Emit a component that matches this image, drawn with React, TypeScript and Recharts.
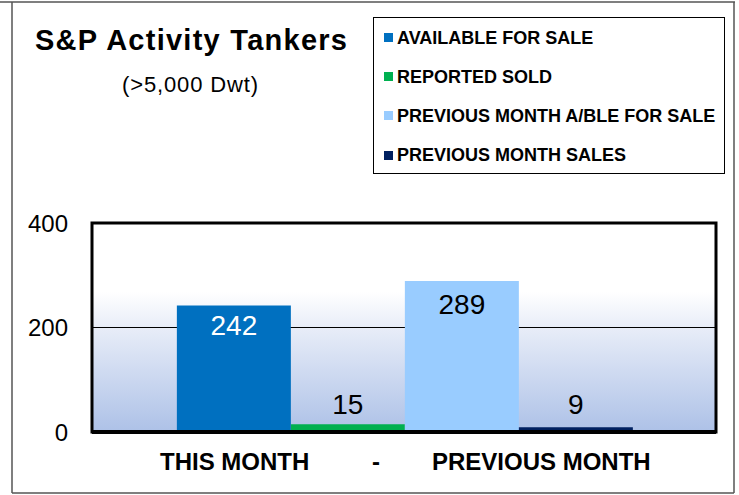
import React from 'react';
import { BarChart, Bar, XAxis, YAxis, CartesianGrid, Legend, LabelList, ReferenceArea } from 'recharts';

const CATEGORIES = ['THIS MONTH - PREVIOUS MONTH'];
const SERIES_NAMES = ['AVAILABLE FOR SALE', 'REPORTED SOLD', 'PREVIOUS MONTH A/BLE FOR SALE', 'PREVIOUS MONTH SALES'];
const SERIES_KEYS = ['available', 'sold', 'prevAvailable', 'prevSales'];
const AVAILABLE = [242];
const SOLD = [15];
const PREV_AVAILABLE = [289];
const PREV_SALES = [9];
const Y_TICKS = [0, 200, 400];

const COLORS = ['#0070C0', '#00B050', '#99CCFF', '#002060'];
const FONT = '"Liberation Sans", Arial, sans-serif';

const data = CATEGORIES.map((name, i) => ({
  name,
  available: AVAILABLE[i],
  sold: SOLD[i],
  prevAvailable: PREV_AVAILABLE[i],
  prevSales: PREV_SALES[i],
}));

// label placement per series: inside the tall bars, above the short ones
const LABELS = [
  { position: 'insideTop', offset: 10, fill: '#fff' },
  { position: 'top', offset: 10, fill: '#000' },
  { position: 'insideTop', offset: 13, fill: '#000' },
  { position: 'top', offset: 13, fill: '#000' },
];

const CategoryTick = (props: any) => {
  const { x, y, payload } = props;
  const parts = String(payload.value).split(' - ');
  const style = { fontFamily: FONT, fontSize: 24, fontWeight: 700, fill: '#000' };
  return (
    <g>
      <text x={x - 244} y={y + 30} style={style}>{parts[0]}</text>
      <text x={x - 32} y={y + 30} style={style}>-</text>
      <text x={x + 28} y={y + 30} style={style}>{parts[1]}</text>
    </g>
  );
};

const LegendBox = () => (
  <div style={{ border: '1px solid #000', width: 352, height: 157, boxSizing: 'border-box', background: '#fff', paddingTop: 0 }}>
    {SERIES_NAMES.map((name, i) => (
      <div key={name} style={{ display: 'flex', alignItems: 'center', height: 39.2, paddingLeft: 10 }}>
        <span style={{ width: 9, height: 9, background: COLORS[i], marginRight: 4, display: 'inline-block' }} />
        <span style={{ fontFamily: FONT, fontWeight: 700, fontSize: 18, color: '#000', lineHeight: 1 }}>{name}</span>
      </div>
    ))}
  </div>
);

export default function App() {
  return (
    <div style={{ position: 'absolute', left: 0, top: 0, width: 739, height: 495, background: '#fff' }}>
      <svg width={739} height={495} style={{ position: 'absolute', left: 0, top: 0 }}>
        <line x1={0} y1={2} x2={735} y2={2} stroke="#555" strokeWidth={1.5} />
        <line x1={12} y1={2} x2={12} y2={493} stroke="#555" strokeWidth={1.5} />
        <line x1={734} y1={2} x2={734} y2={493} stroke="#555" strokeWidth={1.5} />
        <line x1={12} y1={493} x2={734} y2={493} stroke="#555" strokeWidth={1.5} />
        <text x={35} y={50} textLength={312} lengthAdjust="spacing" style={{ fontFamily: FONT, fontSize: 29, fontWeight: 700 }}>S&amp;P Activity Tankers</text>
        <text x={122} y={92} textLength={136} lengthAdjust="spacing" style={{ fontFamily: FONT, fontSize: 22 }}>(&gt;5,000 Dwt)</text>
      </svg>
      <div style={{ position: 'absolute', left: 0, top: 0 }}>
        <BarChart
          width={739}
          height={495}
          data={data}
          margin={{ top: 223, right: 23, bottom: 23, left: 32 }}
          barCategoryGap="13.6%"
          barGap={0}
        >
          <defs>
            <linearGradient id="plotBg" x1="0" y1="0" x2="0" y2="1">
              <stop offset="0%" stopColor="#ffffff" />
              <stop offset="33%" stopColor="#ffffff" />
              <stop offset="50%" stopColor="#E8EDF8" />
              <stop offset="100%" stopColor="#ADC1E7" />
            </linearGradient>
          </defs>
          <CartesianGrid vertical={false} stroke="#000" strokeWidth={1} fill="url(#plotBg)" fillOpacity={1} />
          <XAxis dataKey="name" height={40} axisLine={{ stroke: '#000', strokeWidth: 4 }} tickLine={false} tick={<CategoryTick />} />
          <YAxis
            domain={[0, 400]}
            ticks={Y_TICKS}
            width={60}
            axisLine={false}
            tickLine={false}
            tickMargin={18}
            tick={{ fontFamily: FONT, fontSize: 24, fill: '#000' }}
          />
          <Legend
            verticalAlign="middle"
            align="center"
            layout="vertical"
            content={<LegendBox />}
            wrapperStyle={{ position: 'absolute', left: 373, top: 17, width: 352, height: 157 }}
          />
          {SERIES_KEYS.map((key, i) => (
            <Bar key={key} dataKey={key} name={SERIES_NAMES[i]} fill={COLORS[i]} isAnimationActive={false}>
              <LabelList
                dataKey={key}
                position={LABELS[i].position as any}
                offset={LABELS[i].offset}
                style={{ fontFamily: FONT, fontSize: 28, fill: LABELS[i].fill }}
              />
            </Bar>
          ))}
          <ReferenceArea y1={0} y2={400} fill="none" stroke="#000" strokeWidth={3} ifOverflow="visible" />
        </BarChart>
      </div>
    </div>
  );
}
